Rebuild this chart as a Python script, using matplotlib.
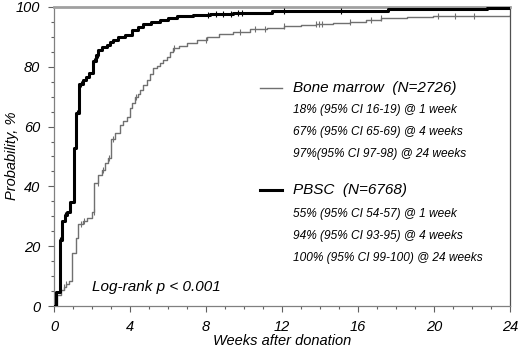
import numpy as np
import matplotlib
matplotlib.use("Agg")
import matplotlib.pyplot as plt

# Bone marrow (gray, thin) step function: event times (weeks) and cumulative probability (%)
bm_t = [0, 0.17, 0.37, 0.5, 0.65, 0.8, 0.96, 1.14, 1.28, 1.5, 1.75, 1.98, 2.12, 2.33, 2.5, 2.68, 2.86,
        3.0, 3.21, 3.47, 3.65, 3.82, 4.0, 4.13, 4.26, 4.4, 4.53, 4.7, 4.88, 5.05, 5.23, 5.4, 5.58,
        5.75, 5.93, 6.1, 6.28, 6.6, 6.98, 7.5, 8.04, 8.7, 9.44, 10.3, 11.2, 12.1, 13.0, 13.8, 14.7,
        15.6, 16.4, 17.2, 18.6, 19.96, 24]
bm_p = [0, 3.7, 5.3, 6.4, 7.4, 8.2, 17.6, 22.6, 27.4, 28.5, 29.3, 31.5, 41.0, 43.8, 45.5, 47.7, 49.4,
        56.0, 57.7, 60.5, 62.0, 63.3, 66.1, 68.0, 70.0, 71.0, 72.2, 74.0, 75.6, 77.5, 79.5, 80.3, 81.2,
        82.3, 83.4, 84.8, 86.2, 87.0, 87.9, 89.0, 89.9, 90.9, 91.8, 92.5, 93.0, 93.6, 94.0, 94.4, 94.8,
        95.1, 95.6, 96.2, 96.6, 97.0, 97.3]
bm_cens = [0.5, 0.65, 1.4, 1.6, 2.1, 2.3, 2.6, 2.9, 3.1, 4.3, 6.3, 8.0, 9.8, 10.6, 11.1, 12.1,
           13.8, 13.95, 14.1, 15.6, 16.7, 17.2, 20.2, 21.1, 22.1]

# PBSC (black, thick)
pb_t = [0, 0.1, 0.32, 0.4, 0.58, 0.7, 0.84, 1.07, 1.17, 1.33, 1.5, 1.7, 1.85, 2.07, 2.2, 2.33,
        2.55, 2.77, 2.95, 3.12, 3.39, 3.74, 4.09, 4.4, 4.7, 5.1, 5.58, 6.0, 6.46, 7.33, 8.2,
        9.4, 11.46, 13.7, 17.6, 22.8, 24]
pb_p = [0, 4.8, 22.0, 28.4, 30.4, 31.5, 34.9, 52.8, 64.5, 74.2, 75.5, 76.5, 78.0, 82.0, 84.0, 85.6,
        86.5, 87.3, 88.4, 89.0, 90.0, 90.8, 92.3, 93.3, 94.2, 95.0, 95.6, 96.3, 97.0, 97.3, 97.7,
        98.1, 98.5, 98.7, 99.2, 99.7, 99.7]
pb_cens = [0.32, 0.6, 1.2, 1.4, 2.1, 2.3, 8.1, 8.5, 8.9, 9.3, 9.7, 9.9, 12.1, 15.1]

x_ticks = [0, 4, 8, 12, 16, 20, 24]
y_ticks = [0, 20, 40, 60, 80, 100]

legend_bm = "Bone marrow  (N=2726)"
bm_lines = ["18% (95% CI 16-19) @ 1 week",
            "67% (95% CI 65-69) @ 4 weeks",
            "97%(95% CI 97-98) @ 24 weeks"]
legend_pb = "PBSC  (N=6768)"
pb_lines = ["55% (95% CI 54-57) @ 1 week",
            "94% (95% CI 93-95) @ 4 weeks",
            "100% (95% CI 99-100) @ 24 weeks"]

plt.rcParams['font.family'] = ['Liberation Sans', 'DejaVu Sans']

fig = plt.figure(figsize=(5.2, 3.52), dpi=100)
ax = fig.add_axes([54/520, 46/352, 456/520, 299/352])

def step_val(t, ts, ps):
    idx = np.searchsorted(ts, t, side='right') - 1
    return np.array(ps)[idx]

ax.plot(bm_t, bm_p, drawstyle='steps-post', color='#707070', lw=1.0, zorder=3)
ax.plot(pb_t, pb_p, drawstyle='steps-post', color='black', lw=2.2, zorder=4)
ax.plot(bm_cens, step_val(bm_cens, bm_t, bm_p), ls='none', marker='|', ms=4, mew=0.8, color='#707070', zorder=3)
ax.plot(pb_cens, step_val(pb_cens, pb_t, pb_p), ls='none', marker='|', ms=4, mew=0.8, color='black', zorder=4)

ax.set_xlim(0, 24)
ax.set_ylim(0, 100)
ax.set_xticks(x_ticks)
ax.set_yticks(y_ticks)
ax.set_xticks(np.arange(0, 25, 1), minor=True)
ax.set_yticks(np.arange(0, 101, 5), minor=True)
ax.set_xticklabels([str(v) for v in x_ticks], fontstyle='italic', fontsize=10.5)
ax.set_yticklabels([str(v) for v in y_ticks], fontstyle='italic', fontsize=10.5)
ax.tick_params(axis='both', which='major', direction='out', length=4, width=0.8, color='#606060', pad=6)
ax.tick_params(axis='both', which='minor', direction='out', length=2.5, width=0.8, color='#606060')

for s in ['left', 'bottom']:
    ax.spines[s].set_color('#808080')
    ax.spines[s].set_linewidth(0.9)
ax.spines['top'].set_color('#a0a0a0')
ax.spines['top'].set_linewidth(2.0)
ax.spines['right'].set_color('#505050')
ax.spines['right'].set_linewidth(0.9)

ax.set_xlabel("Weeks after donation", fontstyle='italic', fontsize=10.5)
ax.xaxis.set_label_coords((282 - 54) / 456, (306 - 341) / 299)
ax.set_ylabel("Probability, %", fontstyle='italic', fontsize=10.5)
ax.yaxis.set_label_coords((12 - 54) / 456, (306 - 156) / 299)
ax.yaxis.label.set_va('center')
ax.xaxis.label.set_va('center')

# legend-like annotations
def px(x, y):
    return ((x - 54) / 456, (306 - y) / 299)

ax.plot([px(260, 88)[0], px(282, 88)[0]], [px(260, 88)[1]]*2, transform=ax.transAxes,
        color='#707070', lw=1.0, clip_on=False)
ax.text(*px(293, 88), legend_bm, transform=ax.transAxes, fontstyle='italic', fontsize=11, va='center')
for i, s in enumerate(bm_lines):
    ax.text(*px(293, 110 + 22 * i), s, transform=ax.transAxes, fontstyle='italic', fontsize=8.6, va='center')

ax.plot([px(260, 190)[0], px(282, 190)[0]], [px(260, 190)[1]]*2, transform=ax.transAxes,
        color='black', lw=2.2, clip_on=False)
ax.text(*px(293, 190), legend_pb, transform=ax.transAxes, fontstyle='italic', fontsize=11, va='center')
for i, s in enumerate(pb_lines):
    ax.text(*px(293, 214 + 22 * i), s, transform=ax.transAxes, fontstyle='italic', fontsize=8.6, va='center')

ax.text(*px(92, 287), "Log-rank p < 0.001", transform=ax.transAxes, fontstyle='italic', fontsize=11, va='center')

fig.savefig("out.png", dpi=100)
